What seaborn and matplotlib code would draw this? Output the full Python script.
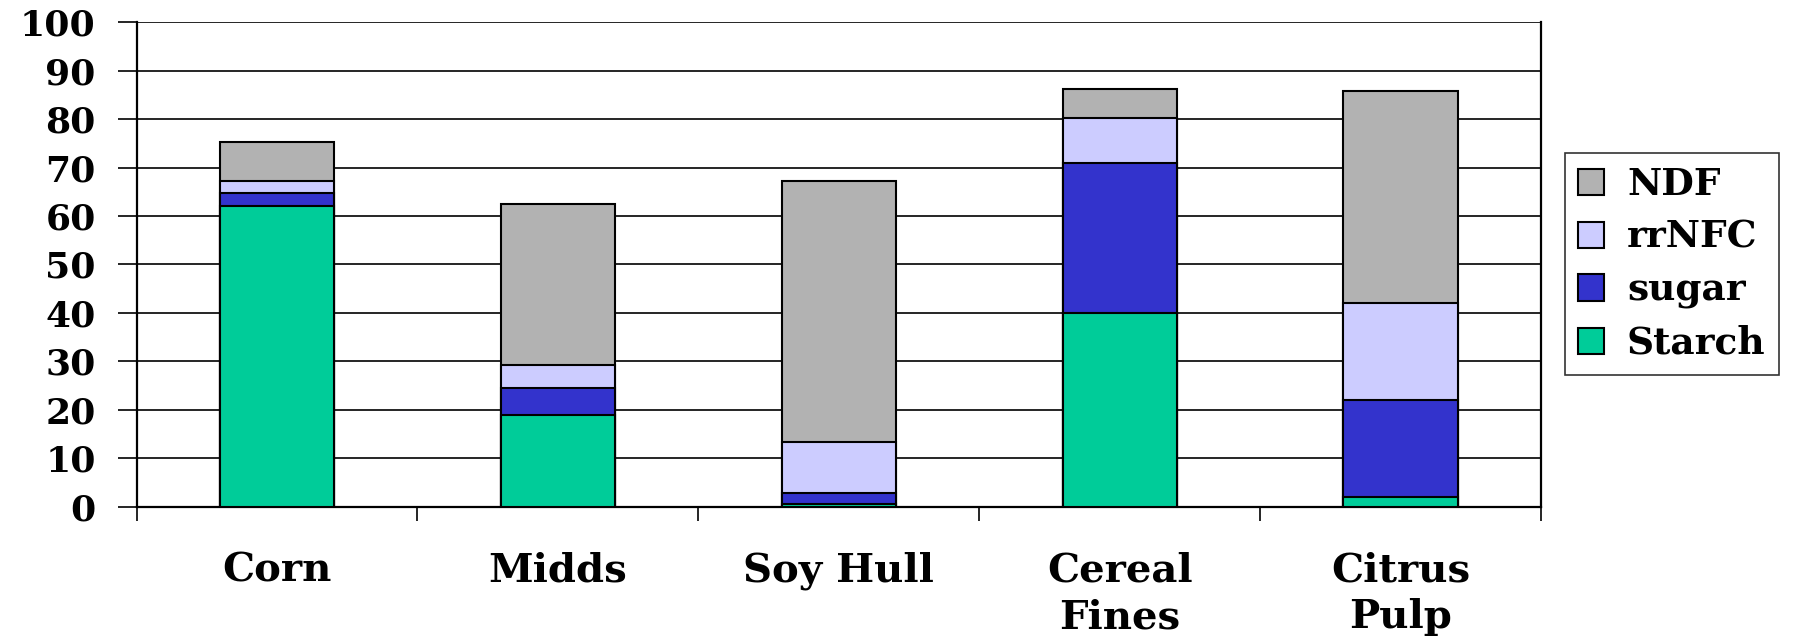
import matplotlib
matplotlib.use("Agg")
import matplotlib.pyplot as plt
import numpy as np
import pandas as pd
import seaborn as sns
from matplotlib.patches import Patch

# Carbohydrate fractions (% of DM) by feed
feeds = ["Corn", "Midds", "Soy Hull", "Cereal\nFines", "Citrus\nPulp"]
starch = [62.0, 19.0, 0.5, 40.0, 2.0]
sugar = [2.8, 5.5, 2.3, 31.0, 20.0]
rrnfc = [2.4, 4.8, 10.6, 9.3, 20.0]
ndf = [8.0, 33.2, 53.8, 5.9, 43.8]

series_names = ["Starch", "sugar", "rrNFC", "NDF"]
series_values = [starch, sugar, rrnfc, ndf]
series_colors = ["#00CC99", "#3333CC", "#CCCCFF", "#B2B2B2"]

y_ticks = list(range(0, 101, 10))

sns.set_style("white")
plt.rcParams["font.family"] = ["DejaVu Serif"]
plt.rcParams["font.weight"] = "bold"
plt.rcParams["text.color"] = "black"
plt.rcParams["xtick.color"] = "black"
plt.rcParams["ytick.color"] = "black"
plt.rcParams["xtick.labelcolor"] = "black"
plt.rcParams["ytick.labelcolor"] = "black"

fig = plt.figure(figsize=(18.12, 6.4), dpi=100)
ax = fig.add_axes([0.0754, 0.2083, 0.775, 0.7569])

# stacked bars: draw cumulative totals from the top layer down
df = pd.DataFrame({"feed": feeds})
cum = np.zeros(len(feeds))
cums = []
for vals in series_values:
    cum = cum + np.array(vals)
    cums.append(cum.copy())

for name, total, color in reversed(list(zip(series_names, cums, series_colors))):
    df["value"] = total
    sns.barplot(data=df, x="feed", y="value", color=color, width=0.406,
                edgecolor="black", linewidth=1.5, saturation=1, ax=ax,
                zorder=3, errorbar=None)

ax.set_xlim(-0.5, len(feeds) - 0.5)
ax.set_ylim(0, 100)
ax.set_yticks(y_ticks)
ax.set_yticklabels([str(t) for t in y_ticks])
ax.set_xlabel("")
ax.set_ylabel("")

ax.yaxis.grid(True, color="black", linewidth=1.2, zorder=0)
ax.xaxis.grid(False)
ax.set_axisbelow(True)

for side in ["left", "bottom", "right"]:
    ax.spines[side].set_visible(True)
    ax.spines[side].set_color("black")
    ax.spines[side].set_linewidth(1.6)
ax.spines["top"].set_visible(False)

ax.tick_params(axis="y", which="major", direction="out", length=13.5, width=1.2,
               color="black", labelcolor="black", pad=16, labelsize=26, left=True)
ax.set_xticks(np.arange(-0.5, len(feeds), 1.0), minor=True)
ax.tick_params(axis="x", which="minor", direction="out", length=10, width=1.2,
               color="black", bottom=True)
ax.tick_params(axis="x", which="major", length=0, pad=32, labelsize=29,
               labelcolor="black")
for lbl in ax.get_xticklabels():
    lbl.set_fontweight("bold")
    lbl.set_linespacing(1.3)
for lbl in ax.get_yticklabels():
    lbl.set_fontweight("bold")

handles = [Patch(facecolor=c, edgecolor="black", linewidth=1.5)
           for c in reversed(series_colors)]
leg = fig.legend(handles, list(reversed(series_names)), loc="upper left",
                 bbox_to_anchor=(0.8637, 0.761), bbox_transform=fig.transFigure,
                 frameon=True, fancybox=False, edgecolor="black",
                 prop={"size": 27, "weight": "bold"}, handlelength=0.7,
                 handleheight=0.7, handletextpad=0.6, labelspacing=0.42,
                 borderpad=0.35, borderaxespad=0)
leg.get_frame().set_linewidth(1.2)
for t in leg.get_texts():
    t.set_color("black")

fig.savefig("out.png", dpi=100)
